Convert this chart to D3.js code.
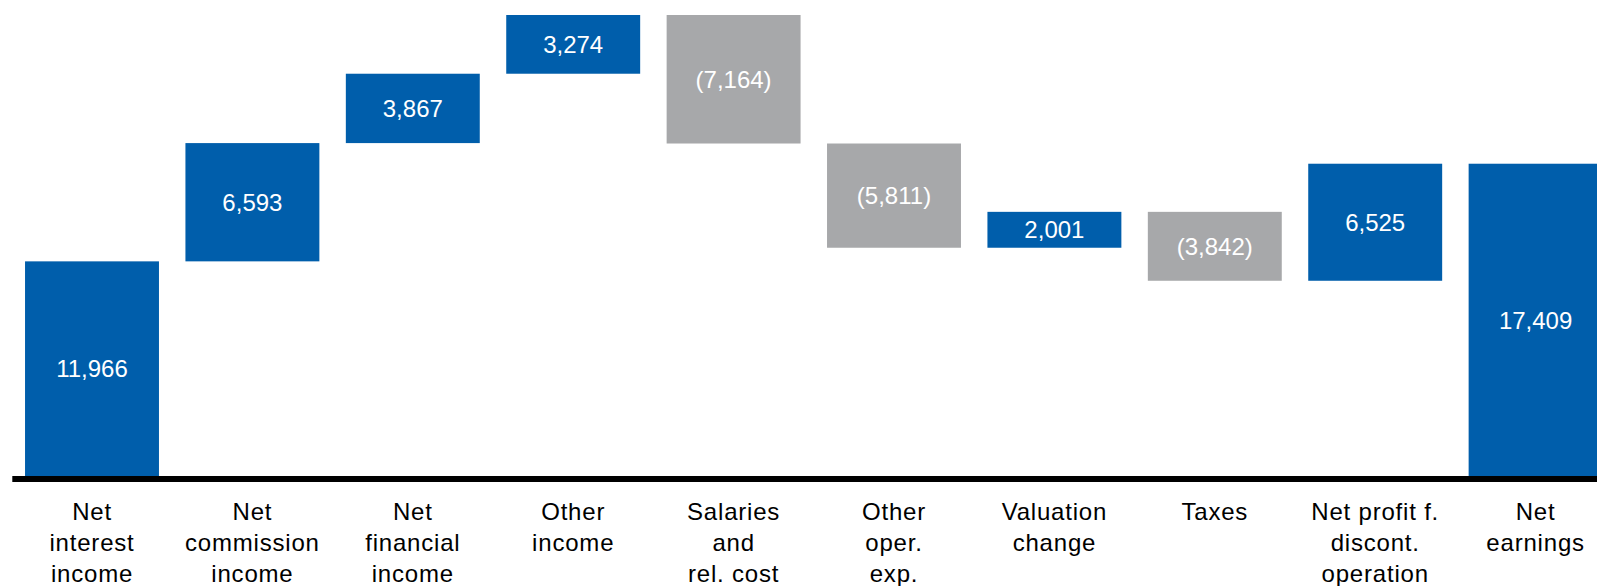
<!DOCTYPE html>
<html>
<head>
<meta charset="utf-8">
<script src="https://cdn.jsdelivr.net/npm/d3@7"></script>
<style>
  body { margin: 0; background: #fff; }
  svg { display: block; font-family: "Liberation Sans", Arial, sans-serif; }
</style>
</head>
<body>
<div id="waterfall"></div>
<script>
// categories, one entry per bar; "|" splits the label lines
var categories = [
  "Net|interest|income",
  "Net|commission|income",
  "Net|financial|income",
  "Other|income",
  "Salaries|and|rel. cost",
  "Other|oper.|exp.",
  "Valuation|change",
  "Taxes",
  "Net profit f.|discont.|operation",
  "Net|earnings"
];
var values = [11966, 6593, 3867, 3274, -7164, -5811, 2001, -3842, 6525, 17409];
var isTotal = [false, false, false, false, false, false, false, false, false, true];

function waterfall() {
  var svg = d3.select("#waterfall")
              .append("svg")
              .attr("width", 1597)
              .attr("height", 586);

  var baseY = 476;

  // running totals -> start/end of each step
  var run = 0;
  var steps = values.map(function(v, i) {
    var s, e;
    if (isTotal[i]) { s = 0; e = v; run = v; }
    else { s = run; e = run + v; run = e; }
    return {cat: categories[i], value: v, start: s, end: e};
  });

  var x = d3.scaleBand()
            .domain(categories)
            .range([11.8, 1615.8])
            .paddingInner(0.165)
            .paddingOuter(0.0825);

  var y = d3.scaleLinear()
            .domain([0, d3.max(steps, function(d) { return Math.max(d.start, d.end); })])
            .range([baseY, 15]);

  var fmt = d3.format(",");

  svg.selectAll("rect.bar")
     .data(steps)
     .enter()
     .append("rect")
     .attr("class", "bar")
     .attr("x", function(d) { return x(d.cat); })
     .attr("width", x.bandwidth())
     .attr("y", function(d) { return y(Math.max(d.start, d.end)); })
     .attr("height", function(d) { return Math.abs(y(d.start) - y(d.end)); })
     .attr("fill", function(d) { return d.value < 0 ? "#a7a8aa" : "#005eab"; });

  svg.selectAll("text.val")
     .data(steps)
     .enter()
     .append("text")
     .attr("class", "val")
     .attr("x", function(d) { return x(d.cat) + x.bandwidth() / 2; })
     .attr("y", function(d) { return (y(d.start) + y(d.end)) / 2; })
     .attr("dy", "0.36em")
     .attr("text-anchor", "middle")
     .attr("fill", "#fff")
     .style("font-size", "24px")
     .text(function(d) {
       return d.value < 0 ? "(" + fmt(-d.value) + ")" : fmt(d.value);
     });

  // baseline axis
  var axis = svg.append("g")
                .attr("transform", "translate(0," + (baseY + 2.5) + ")")
                .call(d3.axisBottom(x).tickSize(0).tickSizeOuter(0));

  axis.select(".domain")
      .attr("stroke", "#000")
      .attr("stroke-width", 6);

  axis.selectAll(".tick text")
      .attr("y", 41)
      .attr("dy", null)
      .attr("fill", "#000")
      .style("font-size", "24px")
      .style("letter-spacing", "0.8px")
      .style("font-family", "\"Liberation Sans\", Arial, sans-serif")
      .each(function(d) {
        var t = d3.select(this);
        t.text(null);
        d.split("|").forEach(function(line, j) {
          t.append("tspan")
           .attr("x", 0)
           .attr("dy", j === 0 ? 0 : 31)
           .text(line);
        });
      });
}
waterfall();
</script>
</body>
</html>
